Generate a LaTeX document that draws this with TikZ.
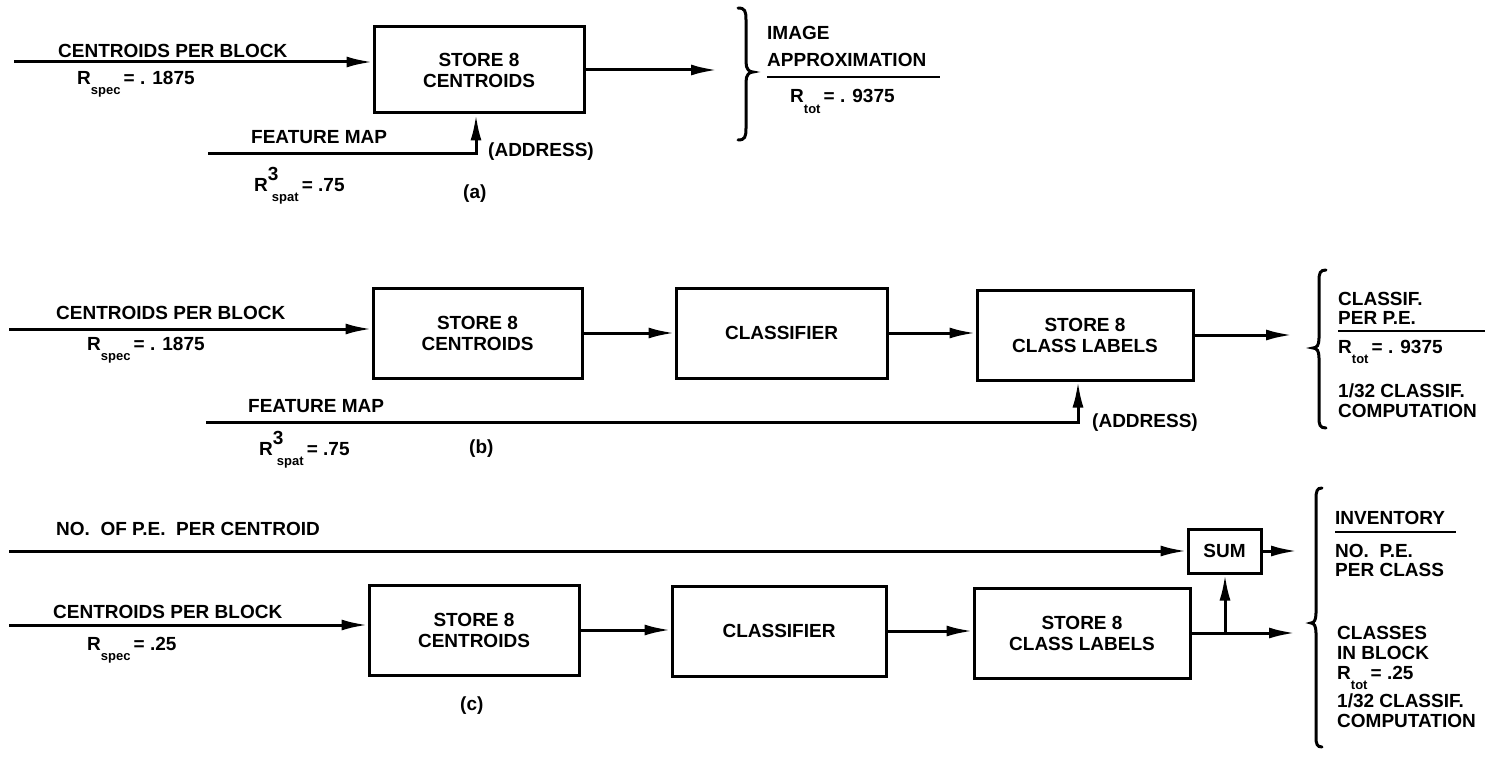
\documentclass[tikz,border=0pt]{standalone}
\usepackage{fontspec}
\setmainfont{Liberation Sans}
\usetikzlibrary{arrows.meta,calc}
\newcommand\lblfont{\fontsize{19}{21}\selectfont\bfseries}
\newcommand\mysub[1]{\raisebox{-10pt}{\fontsize{13}{13}\selectfont #1}}
\newcommand\mysup[1]{\raisebox{11pt}{#1}}
\begin{document}
\begin{tikzpicture}[x=1pt,y=-1pt,
  wire/.style={line width=3pt},
  arr/.style={wire,-{Latex[length=26pt,width=11pt]}},
  blk/.style={draw,line width=3pt,inner sep=0pt,align=center,font=\lblfont},
  lbl/.style={anchor=base west,inner sep=0pt,font=\lblfont},
  uline/.style={line width=2.2pt},
  brace/.style={line width=3pt,line cap=round}]
\useasboundingbox (0,0) rectangle (1502,757);

% ---------------- (a)
\node[blk,minimum width=210pt,minimum height=86pt] (a1) at (479,70) {STORE 8\\CENTROIDS};
\coordinate (ain) at (14,62);
\draw[arr] (ain) -- (ain -| a1.west);
\node[lbl] (alab1) at (58,58) {CENTROIDS PER BLOCK};
\node[lbl] (alab2) at (77,85) {R\mysub{spec}\,= . 1875};
\coordinate (aout) at (717,70);
\draw[arr] (a1.east) -- (aout);
\coordinate (afm) at (208,154);
\coordinate (afmc) at (476,154);
\draw[arr] (afm) -- (afmc) -- (afmc |- a1.south);
\node[lbl] (alab3) at (251,143) {FEATURE MAP};
\node[lbl] (alab4) at (254,191) {R\rlap{\mysup{3}}\hspace{4pt}\mysub{spat}\,= .75};
\node[lbl] (alab5) at (488,157) {(ADDRESS)};
\node[lbl] (alab6) at (463,198) {(a)};
\draw[brace] (738,8) .. controls (745,8) and (746,11) .. (746,20) -- (746,62)
  .. controls (746,69) and (749,72) .. (753,72)
  .. controls (749,72) and (746,75) .. (746,82) -- (746,128)
  .. controls (746,137) and (745,140) .. (738,140);
\node[lbl] (ares1) at (767,40) {IMAGE};
\node[lbl] (ares2) at (767,67) {APPROXIMATION};
\draw[uline] (767,77) -- (940,77);
\node[lbl] (ares3) at (790,103) {R\mysub{tot}\,= . 9375};

% ---------------- (b)
\node[blk,minimum width=209pt,minimum height=90pt] (b1) at (477.5,333) {STORE 8\\CENTROIDS};
\node[blk,minimum width=211pt,minimum height=90pt] (b2) at (781.5,333) {CLASSIFIER};
\node[blk,minimum width=216pt,minimum height=90pt] (b3) at (1085,335) {STORE 8\\CLASS LABELS};
\coordinate (bin) at (9,329);
\draw[arr] (bin) -- (bin -| b1.west);
\draw[arr] (b1.east) -- (b2.west);
\draw[arr] (b2.east) -- (b2.east -| b3.west);
\coordinate (bout) at (1292,335);
\draw[arr] (b3.east) -- (bout);
\node[lbl] (blab1) at (56,319) {CENTROIDS PER BLOCK};
\node[lbl] (blab2) at (87,350) {R\mysub{spec}\,= . 1875};
\coordinate (bfm) at (206,422);
\coordinate (bfmc) at (1078,422);
\draw[arr] (bfm) -- (bfmc) -- (bfmc |- b3.south);
\node[lbl] (blab3) at (248,412) {FEATURE MAP};
\node[lbl] (blab4) at (259,455) {R\rlap{\mysup{3}}\hspace{4pt}\mysub{spat}\,= .75};
\node[lbl] (blab5) at (1092,427) {(ADDRESS)};
\node[lbl] (blab6) at (469,453) {(b)};
\draw[brace] (1326,270) .. controls (1320,270) and (1319,273) .. (1319,281) -- (1319,338)
  .. controls (1319,345) and (1317,348) .. (1313,348)
  .. controls (1317,348) and (1319,351) .. (1319,358) -- (1319,418)
  .. controls (1319,425) and (1320,428) .. (1326,428);
\node[lbl] (bres1) at (1338,305) {CLASSIF.};
\node[lbl] (bres2) at (1338,324) {PER P.E.};
\draw[uline] (1338,331) -- (1485,331);
\node[lbl] (bres3) at (1338,353) {R\mysub{tot}\,= . 9375};
\node[lbl] (bres4) at (1338,397) {1/32 CLASSIF.};
\node[lbl] (bres5) at (1338,417) {COMPUTATION};

% ---------------- (c)
\node[blk,minimum width=210pt,minimum height=90pt] (c1) at (474,630) {STORE 8\\CENTROIDS};
\node[blk,minimum width=214pt,minimum height=90pt] (c2) at (779,631) {CLASSIFIER};
\node[blk,minimum width=216pt,minimum height=90pt] (c3) at (1082,633) {STORE 8\\CLASS LABELS};
\node[blk,minimum width=73pt,minimum height=44pt] (sum) at (1224.5,551) {SUM};
\coordinate (cpe) at (9,551);
\draw[arr] (cpe) -- (sum.west);
\node[lbl] (clab0) at (56,535) {NO.\ \ OF P.E.\ \ PER CENTROID};
\coordinate (sumout) at (1297,551);
\draw[arr] (sum.east) -- (sumout);
\coordinate (cin) at (9,625);
\draw[arr] (cin) -- (cin -| c1.west);
\draw[arr] (c1.east) -- (c1.east -| c2.west);
\draw[arr] (c2.east) -- (c2.east -| c3.west);
\coordinate (cout) at (1295,633);
\draw[arr] (c3.east) -- (cout);
\coordinate (cbr) at (1225,633);
\draw[arr] (cbr) -- (cbr |- sum.south);
\node[lbl] (clab1) at (53,618) {CENTROIDS PER BLOCK};
\node[lbl] (clab2) at (87,650) {R\mysub{spec}\,= .25};
\node[lbl] (clab3) at (460,710) {(c)};
\draw[brace] (1322,488) .. controls (1317,488) and (1316,491) .. (1316,499) -- (1316,613)
  .. controls (1316,620) and (1314,623) .. (1311,623)
  .. controls (1314,623) and (1316,626) .. (1316,633) -- (1316,737)
  .. controls (1316,744) and (1317,747) .. (1322,747);
\node[lbl] (cres1) at (1335,524) {INVENTORY};
\draw[uline] (1335,532) -- (1456,532);
\node[lbl] (cres2) at (1335,557) {NO.\ \ P.E.};
\node[lbl] (cres3) at (1335,576) {PER CLASS};
\node[lbl] (cres4) at (1337,639) {CLASSES};
\node[lbl] (cres5) at (1337,659) {IN BLOCK};
\node[lbl] (cres6) at (1337,679) {R\mysub{tot}\,= .25};
\node[lbl] (cres7) at (1337,707) {1/32 CLASSIF.};
\node[lbl] (cres8) at (1337,727) {COMPUTATION};
\end{tikzpicture}
\end{document}
